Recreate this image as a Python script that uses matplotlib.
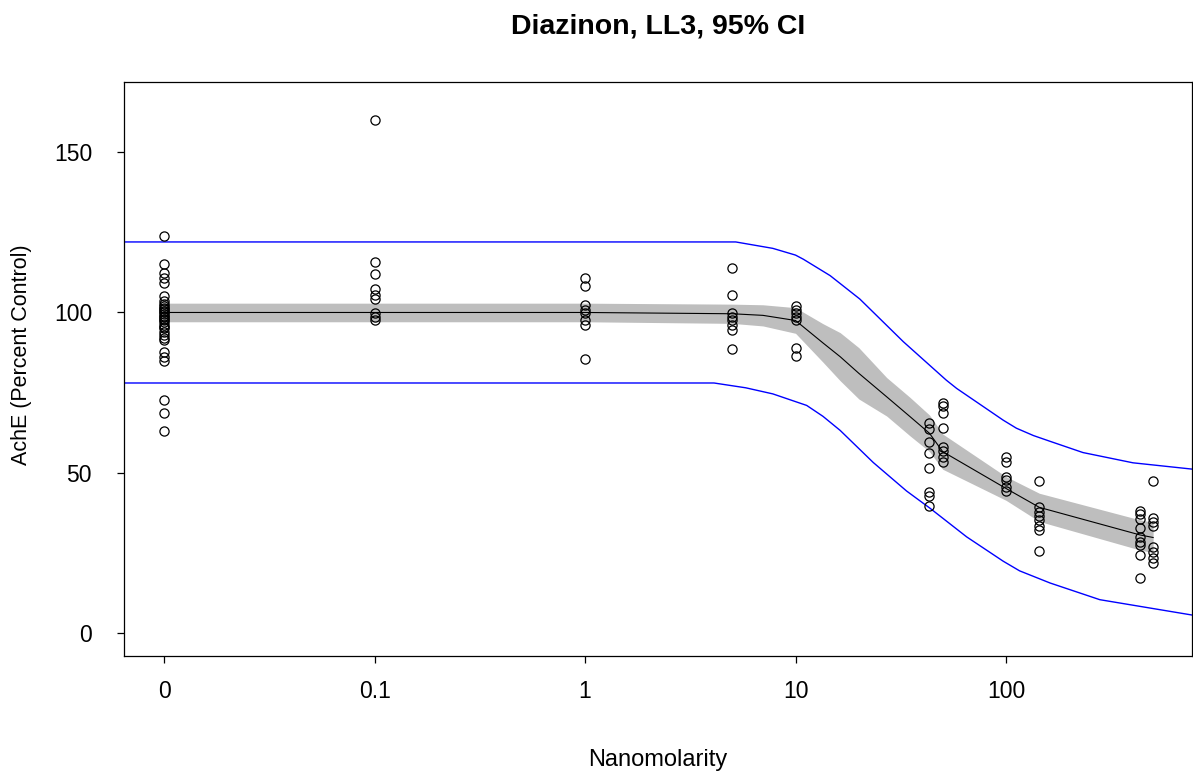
import numpy as np
import matplotlib
matplotlib.use("Agg")
import matplotlib.pyplot as plt

plt.rcParams['font.family'] = ['Liberation Sans', 'DejaVu Sans']

# Observed AchE activity (% of control) by diazinon concentration (nM);
# dose 0 is drawn at 0.01 on the log axis.
ctrl_pos = 0.01
resp_0 = [124, 115, 112.2, 110.6, 109.3, 105.1, 103.5, 102.5, 102, 101.5, 101,
          100.5, 100, 99.5, 99, 98.5, 98, 97.5, 97, 96, 95.5, 95, 94, 93, 92,
          91.5, 87.7, 86.2, 85, 72.7, 68.5, 63.1]
resp_01 = [160, 115.8, 111.9, 107.2, 105.6, 104.1, 99.9, 98.7, 97.6]
resp_1 = [110.6, 108.2, 102.3, 100.7, 99.7, 97.6, 96.1, 85.4]
resp_5 = [114, 105.6, 99.7, 98.7, 97.6, 96.1, 94.5, 88.5]
resp_10 = [101.9, 100.8, 99.8, 98.7, 97.6, 88.8, 86.4]
resp_43 = [65.4, 63.8, 59.7, 56.2, 51.4, 44.1, 42.8, 39.6]
resp_50 = [71.8, 70.8, 68.7, 64.0, 58.1, 56.8, 55.0, 53.4]
resp_100 = [54.8, 53.4, 48.8, 47.7, 45.4, 44.4]
resp_144 = [47.5, 39.4, 37.9, 36.5, 35.2, 33.4, 32.1, 25.7]
resp_433 = [38.2, 37.1, 35.5, 32.7, 30.0, 28.5, 27.4, 24.3, 17.3]
resp_500 = [47.5, 35.8, 34.7, 33.4, 26.7, 25.3, 23.3, 21.9]

doses = [ctrl_pos, 0.1, 1, 5, 10, 43.3, 50, 100, 144, 433, 500]
responses = [resp_0, resp_01, resp_1, resp_5, resp_10, resp_43, resp_50,
             resp_100, resp_144, resp_433, resp_500]

# Fitted LL3 curve with 95% confidence half-width
fit_dose = [0.01, 0.1, 1, 5, 7, 10, 13.5, 16.3, 20, 27.1, 35, 43.3, 50, 100,
            144, 433, 500]
fit_resp = [100, 100, 100, 99.6, 99.1, 97.5, 90.5, 86.2, 81.0, 73.7, 67.5,
            62.3, 56.6, 45.1, 39.2, 30.6, 29.8]
fit_ci = [2.9, 2.9, 2.9, 3.0, 3.3, 4.0, 6.0, 7.5, 8.0, 6.0, 6.0, 5.7, 5.5, 3.7,
          4.4, 4.7, 4.7]

# Prediction interval limits
pi_up_dose = [0.005, 5.2, 7.8, 10, 10.9, 14.6, 20.2, 32.5, 52, 58.3, 97, 112,
              135, 162, 232, 401, 800]
pi_upper = [122, 122, 120, 117.9, 116.6, 111.5, 104.2, 90.9, 78.9, 76.3, 66.4,
            63.9, 61.6, 59.8, 56.3, 53.1, 51.0]
pi_lo_dose = [0.005, 4.1, 5.8, 7.8, 11.3, 13.5, 16.3, 23.4, 33.7, 43.6, 65, 97,
              116, 162, 279, 800]
pi_lower = [78, 78, 76.5, 74.6, 71.0, 67.6, 63.2, 53.2, 44.3, 38.9, 30.0, 22.4,
            19.4, 15.6, 10.4, 5.4]

W, H = 1193, 776
fig = plt.figure(figsize=(W / 100, H / 100), dpi=100)
ax = fig.add_axes([124 / W, (H - 656) / H, (1192 - 124) / W, (656 - 82) / H])
ax.set_xscale('log')

ax.plot(pi_up_dose, pi_upper, color='#0000FF', lw=1.0, zorder=2)
ax.plot(pi_lo_dose, pi_lower, color='#0000FF', lw=1.0, zorder=2)

fr = np.array(fit_resp)
ci = np.array(fit_ci)
ax.fill_between(fit_dose, fr - ci, fr + ci, color='#BEBEBE', lw=0, zorder=1)
ax.plot(fit_dose, fit_resp, color='black', lw=0.8, zorder=3)

for d, r in zip(doses, responses):
    ax.plot([d] * len(r), r, linestyle='none', marker='o', markersize=6.6,
            markerfacecolor='none', markeredgecolor='black', markeredgewidth=0.9,
            zorder=4)

ax.set_xlim(0.00645, 765)
ax.set_ylim(-7.17, 171.9)
ax.set_xticks([0.01, 0.1, 1, 10, 100])
ax.set_xticklabels(['0', '0.1', '1', '10', '100'])
ax.minorticks_off()
ax.set_yticks([0, 50, 100, 150])
ax.tick_params(axis='both', direction='out', length=5, width=0.9,
               labelsize=16.5)
ax.tick_params(axis='x', pad=12)
ax.tick_params(axis='y', pad=18)
for s in ax.spines.values():
    s.set_linewidth(0.9)

ax.set_xlabel('Nanomolarity', fontsize=17)
ax.set_ylabel('AchE (Percent Control)', fontsize=15.5)
ax.xaxis.label.set_va('center')
ax.yaxis.label.set_va('center')
ax.xaxis.set_label_coords(0.5, (656 - 760) / (656 - 82))
ax.yaxis.set_label_coords((22 - 124) / (1192 - 124), (656 - 355) / (656 - 82))
fig.text(658 / W, 1 - 27 / H, 'Diazinon, LL3, 95% CI', ha='center', va='center',
         fontsize=20.5, fontweight='bold')

fig.savefig('out.png', dpi=100)
